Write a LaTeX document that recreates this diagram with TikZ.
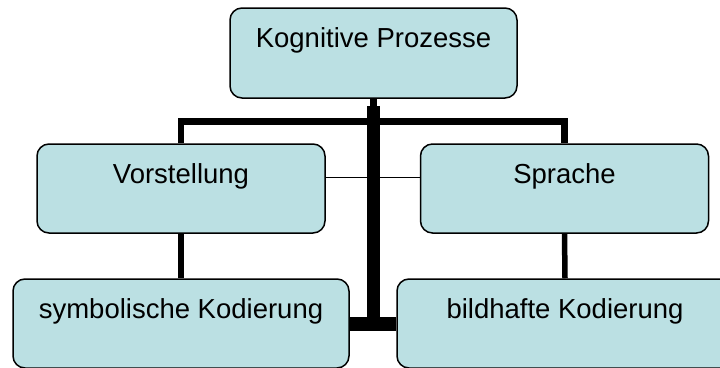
\documentclass[tikz,border=0pt]{standalone}
\usepackage{fontspec}
\setmainfont{Liberation Sans}
\definecolor{boxfill}{RGB}{187,224,227}
\begin{document}
\begin{tikzpicture}[x=1pt,y=-1pt,
    box/.style={draw,line width=1.5pt,fill=boxfill,rounded corners=12pt,inner sep=0pt,
      text height=39pt,text depth=50pt,minimum width=288pt,
      font=\fontsize{27.5}{33}\selectfont}]
  \useasboundingbox (0,0) rectangle (720,367);
  \node[box,minimum width=287pt,text depth=51pt] (kp) at (373.5,53) {Kognitive Prozesse};
  \node[box] (vor) at (181,188.5) {Vorstellung};
  \node[box] (spr) at (564.5,188.5) {Sprache};
  \node[box,minimum width=336pt] (sym) at (181,323.5) {symbolische Kodierung};
  \node[box,minimum width=336pt] (bild) at (565,323.5) {bildhafte Kodierung};
  \coordinate (hub) at (373.5,121.5);
  \coordinate (foot) at (kp.south |- sym.east);
  \draw[line width=1pt] ([yshift=11.5pt]vor.east) -- ([yshift=11.5pt]spr.west);
  \draw[line width=6.5pt] (vor.north) |- (hub) -| (spr.north);
  \draw[line width=5.5pt] (vor.south) -- (sym.north);
  \draw[line width=5.5pt] (spr.south) -- (bild.north);
  \draw[line width=6.5pt] (kp.south) -- ++(0,8);
  \draw[line width=13pt] ([yshift=-7pt]kp.south) -- (foot);
  \draw[line width=14pt] (sym.east) -- (bild.west);
\end{tikzpicture}
\end{document}
